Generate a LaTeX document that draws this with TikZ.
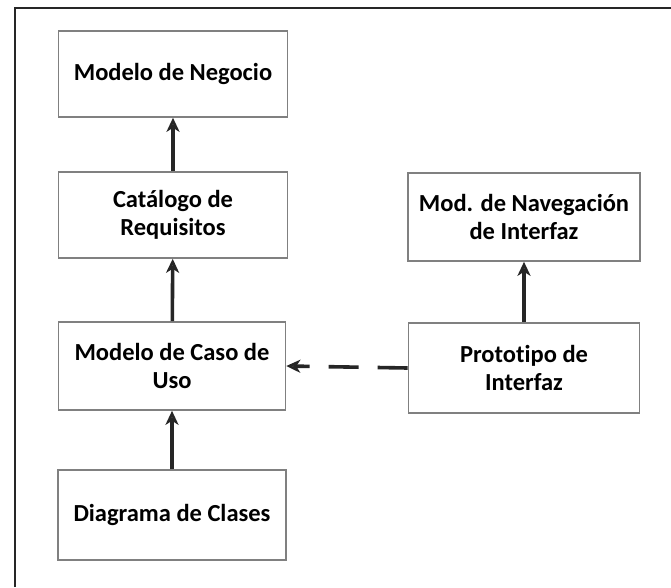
\documentclass[tikz,border=0pt]{standalone}
\usepackage{fontspec}
\setmainfont[Ligatures=NoCommon]{Carlito}
\usetikzlibrary{arrows.meta}
\begin{document}
\begin{tikzpicture}[x=1pt,y=-1pt,
  box/.style={draw=black!50,line width=1.6pt,align=center,inner sep=0pt,
    font=\bfseries\fontsize{24.5}{28}\selectfont,text=black},
  arr/.style={line width=3.6pt,draw=black!85,-{Stealth[length=14pt,width=13pt,inset=4pt,fill=black!45]}},
  darr/.style={arr,dash pattern=on 30pt off 19pt}]
\useasboundingbox (0,0) rectangle (671,587);
\fill[white] (0,0) rectangle (671,587);
\draw[line width=2.6pt,black!85] (15,587) -- (15,8) -- (671,8);
\node[box,minimum width=229pt,minimum height=86pt] (neg) at (173,74) {Modelo de Negocio};
\node[box,minimum width=229pt,minimum height=86pt] (cat) at (173,215) {Catálogo de\\Requisitos};
\node[box,minimum width=227pt,minimum height=88pt] (caso) at (172,366) {Modelo de Caso de\\Uso};
\node[box,minimum width=228pt,minimum height=90pt] (diag) at (172,515) {Diagrama de Clases};
\node[box,minimum width=232pt,minimum height=88pt] (nav) at (524,217) {Mod. de Navegación\\de Interfaz};
\node[box,minimum width=231pt,minimum height=90pt] (proto) at (524,368) {Prototipo de\\Interfaz};
\draw[arr] (cat) -- (neg);
\draw[arr] (caso) -- (cat);
\draw[arr] (diag) -- (caso);
\draw[arr] (proto) -- (nav);
\draw[darr] (proto.west) -- (caso.east);
\end{tikzpicture}
\end{document}
